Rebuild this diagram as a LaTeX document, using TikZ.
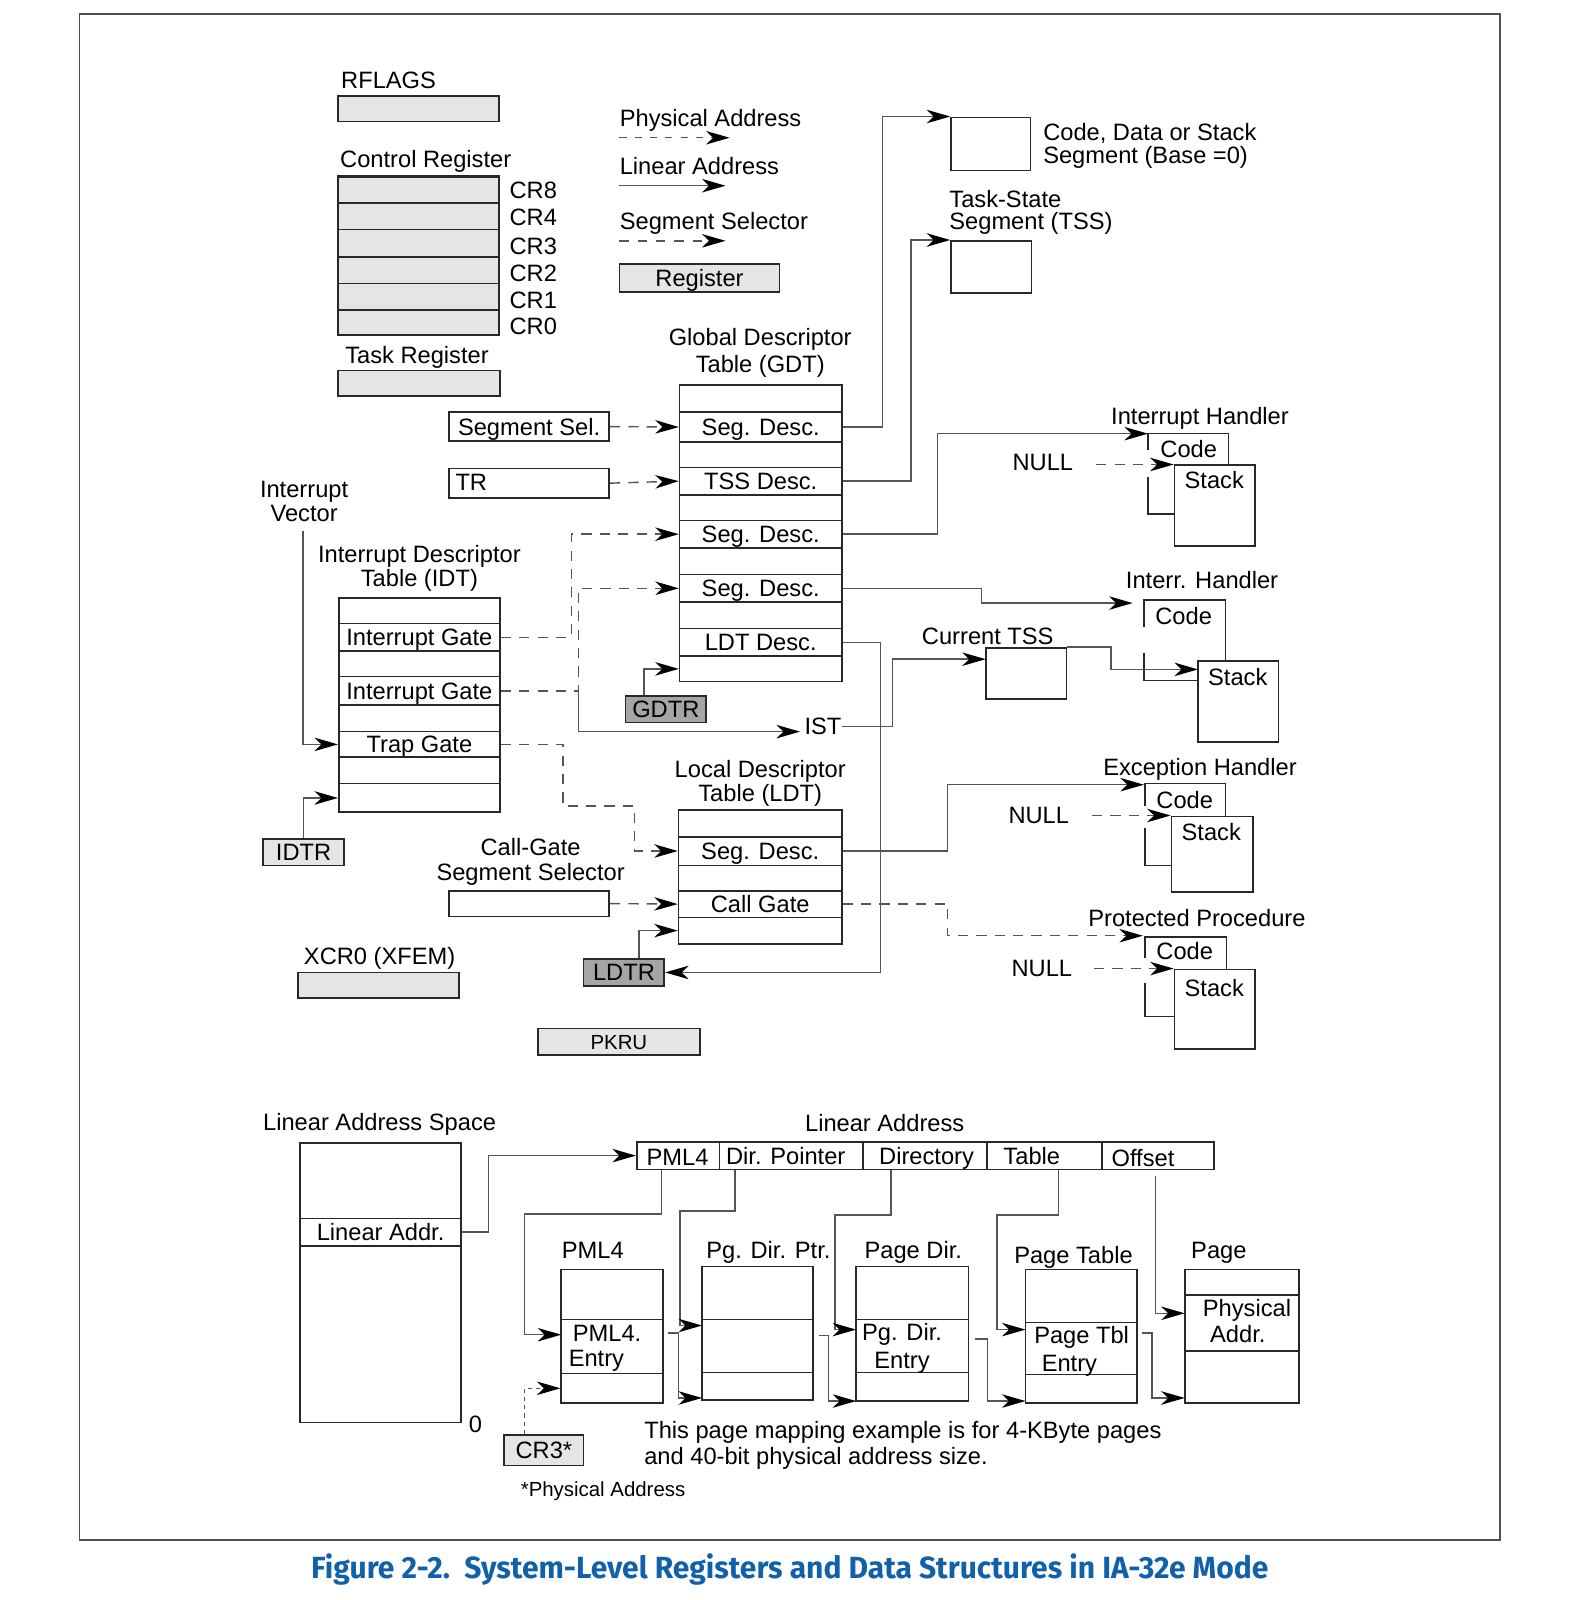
\documentclass[tikz,border=0pt]{standalone}
\usepackage{fontspec}
\setmainfont{Liberation Sans}
\newfontfamily\capfont{Fira Sans}
\usetikzlibrary{arrows.meta,fit,calc}
\definecolor{lightreg}{RGB}{229,229,229}
\definecolor{darkreg}{RGB}{165,165,165}
\definecolor{linec}{RGB}{40,40,40}
\definecolor{connc}{RGB}{85,85,85}
\definecolor{capblue}{RGB}{16,96,170}
\definecolor{framec}{RGB}{80,80,80}
\newcommand\fs{\fontsize{11.6pt}{13pt}\selectfont}
\newcommand\fss{\fontsize{10pt}{12pt}\selectfont}
\newcommand\mkbox[7][]{\node[bx,#1,fit={(#3,#4)(#5,#6)}] (#2) {};
  \node[btxt] (#2t) at (#2.center) {#7};}
\begin{document}
\begin{tikzpicture}[x=0.5pt,y=-0.5pt,
 bx/.style={draw=linec,line width=0.8pt,inner sep=0pt},
 btxt/.style={inner sep=0pt,text height=8.3pt,text depth=0pt,font=\fs,anchor=center},
 lr/.style={fill=lightreg},
 dr/.style={fill=darkreg},
 txt/.style={inner sep=0pt,font=\fs},
 ln/.style={draw=linec,line width=0.8pt},
 conn/.style={draw=connc,line width=0.7pt,-{Stealth[length=11.5pt,width=6.6pt,inset=3.4pt,color=black]}},
 dconn/.style={conn,dash pattern=on 5pt off 4pt},
]
\useasboundingbox (0,0) rectangle (1546,1568);
\draw[draw=framec,line width=0.8pt] (78,14) rectangle (1470,1509);

% ---------- registers ----------
\node[txt,anchor=base west] (tRF) at (334,87) {RFLAGS};
\mkbox[lr]{rf}{331}{94}{489}{119}{}
\node[txt,anchor=base west] (tCR) at (333,164) {Control Register};
\mkbox[lr]{cr4}{331}{199}{489}{225}{}
\mkbox[lr]{cr3}{331}{225}{489}{252}{}
\mkbox[lr]{cr2}{331}{252}{489}{278}{}
\mkbox[lr]{cr1}{331}{278}{489}{304}{}
\mkbox[lr]{cr0}{331}{304}{489}{328}{}
\mkbox[lr,line width=1.2pt]{cr8}{331}{173}{489}{199}{}
\node[txt,anchor=base west] (tCR8) at (499,195) {CR8};
\node[txt,anchor=base west] (tCR4) at (499,221) {CR4};
\node[txt,anchor=base west] (tCR3) at (499,249) {CR3};
\node[txt,anchor=base west] (tCR2) at (499,276) {CR2};
\node[txt,anchor=base west] (tCR1) at (499,302) {CR1};
\node[txt,anchor=base west] (tCR0) at (499,328) {CR0};
\node[txt,anchor=base west] (tTRg) at (338,356) {Task Register};
\mkbox[lr]{trr}{331}{363}{490}{388}{}

% ---------- legend ----------
\node[txt,anchor=base west] (tPA) at (607,124) {Physical Address};
\coordinate (lg1a) at (607,135); \coordinate (lg1b) at (715,135);
\draw[conn,dash pattern=on 3.5pt off 4pt] (lg1a) -- (lg1b);
\node[txt,anchor=base west] (tLA) at (607,171) {Linear Address};
\coordinate (lg2a) at (607,182); \coordinate (lg2b) at (711,182);
\draw[conn] (lg2a) -- (lg2b);
\node[txt,anchor=base west] (tSS) at (607,225) {Segment Selector};
\coordinate (lg3a) at (607,236); \coordinate (lg3b) at (711,236);
\draw[conn,dash pattern=on 4.5pt off 4.5pt] (lg3a) -- (lg3b);
\mkbox[lr]{lreg}{607}{259}{764}{286}{Register}

% ---------- segments ----------
\mkbox{cds}{932}{115}{1010}{167}{}
\node[txt,anchor=base west] (tCDS1) at (1022,138) {Code, Data or Stack};
\node[txt,anchor=base west] (tCDS2) at (1022,160) {Segment (Base =0)};
\node[txt,anchor=base west] (tTSS1) at (930,203) {Task-State};
\node[txt,anchor=base west] (tTSS2) at (930,225) {Segment (TSS)};
\mkbox{tss}{932}{236}{1011}{287}{}

% ---------- GDT ----------
\node[txt,anchor=base] (tG1) at (745,339) {Global Descriptor};
\node[txt,anchor=base] (tG2) at (745,365) {Table (GDT)};
\mkbox{g0}{666}{377}{825}{404}{}
\mkbox{g1}{666}{404}{825}{433}{Seg. Desc.}
\mkbox{g2}{666}{433}{825}{458}{}
\mkbox{g3}{666}{458}{825}{485}{TSS Desc.}
\mkbox{g4}{666}{485}{825}{510}{}
\mkbox{g5}{666}{510}{825}{537}{Seg. Desc.}
\mkbox{g6}{666}{537}{825}{563}{}
\mkbox{g7}{666}{563}{825}{590}{Seg. Desc.}
\mkbox{g8}{666}{590}{825}{616}{}
\mkbox{g9}{666}{616}{825}{643}{LDT Desc.}
\mkbox{g10}{666}{643}{825}{668}{}
\mkbox[dr]{gdtr}{613}{682}{692}{708}{GDTR}

\mkbox{ssel}{440}{404}{597}{432}{Segment Sel.}
\mkbox{trsel}{440}{459}{597}{488}{}
\node[txt,anchor=base west] (tTRs) at (446,481) {TR};

% ---------- IDT ----------
\node[txt,anchor=base] (tIV1) at (298,488) {Interrupt};
\node[txt,anchor=base] (tIV2) at (298,511) {Vector};
\node[txt,anchor=base] (tI1) at (411,551) {Interrupt Descriptor};
\node[txt,anchor=base] (tI2) at (411,575) {Table (IDT)};
\mkbox{i0}{332}{586}{490}{611}{}
\mkbox{i1}{332}{611}{490}{638}{Interrupt Gate}
\mkbox{i2}{332}{638}{490}{663}{}
\mkbox{i3}{332}{663}{490}{691}{Interrupt Gate}
\mkbox{i4}{332}{691}{490}{717}{}
\mkbox{i5}{332}{717}{490}{742}{Trap Gate}
\mkbox{i6}{332}{742}{490}{768}{}
\mkbox{i7}{332}{768}{490}{796}{}
\mkbox[lr]{idtr}{258}{822}{337}{848}{IDTR}

% ---------- LDT ----------
\node[txt,anchor=base] (tL1) at (745,762) {Local Descriptor};
\node[txt,anchor=base] (tL2) at (745,785) {Table (LDT)};
\mkbox{l0}{665}{794}{825}{820}{}
\mkbox{l1}{665}{820}{825}{848}{Seg. Desc.}
\mkbox{l2}{665}{848}{825}{873}{}
\mkbox{l3}{665}{873}{825}{899}{Call Gate}
\mkbox{l4}{665}{899}{825}{925}{}
\mkbox[dr]{ldtr}{572}{940}{651}{966}{LDTR}
\node[txt,anchor=base] (tCG1) at (520,838) {Call-Gate};
\node[txt,anchor=base] (tCG2) at (520,863) {Segment Selector};
\mkbox{cgsel}{440}{873}{597}{898}{}

\node[txt,anchor=base] (tX) at (372,945) {XCR0 (XFEM)};
\mkbox[lr]{xcr}{292}{953}{450}{978}{}
\mkbox[lr]{pkru}{527}{1008}{686}{1034}{}
\node[btxt,font=\fss,text height=7.2pt] (pkrut2) at (pkru.center) {PKRU};

% ---------- handlers ----------
\node[txt,anchor=base] (tIH) at (1176,416) {Interrupt Handler};
\draw[ln] (1125,441) -- (1125,425) -- (1204,425) -- (1204,456);
\draw[ln] (1125,467) -- (1125,504) -- (1151,504);
\mkbox{s1}{1151}{456}{1230}{535}{}
\node[txt,anchor=base] (c1) at (1165,448) {Code};
\node[txt,anchor=base] (st1) at (1190,479) {Stack};
\node[txt,anchor=base] (null1) at (1022,461) {NULL};
\coordinate (ih1c) at (1125,425);

\node[txt,anchor=base] (tIH2) at (1178,577) {Interr. Handler};
\draw[ln] (1121,614) -- (1121,588) -- (1201,588) -- (1201,648);
\draw[ln] (1121,640) -- (1121,667) -- (1174,667);
\mkbox{s2}{1174}{648}{1253}{727}{}
\node[txt,anchor=base] (c2) at (1160,612) {Code};
\node[txt,anchor=base] (st2) at (1213,672) {Stack};
\coordinate (ih2c) at (1110,591);
\coordinate (s2in) at (1174,656);

\node[txt,anchor=base] (tCT) at (968,632) {Current TSS};
\mkbox{ctss}{966}{635}{1045}{685}{}
\coordinate (ctssin) at (966,646);
\node[txt,anchor=base west] (ist) at (788,720) {IST};
\coordinate (istin) at (784,717);

\node[txt,anchor=base] (tEH) at (1176,760) {Exception Handler};
\draw[ln] (1122,790) -- (1122,768) -- (1201,768) -- (1201,800);
\draw[ln] (1122,811) -- (1122,848) -- (1148,848);
\mkbox{s3}{1148}{800}{1228}{874}{}
\node[txt,anchor=base] (c3) at (1161,792) {Code};
\node[txt,anchor=base] (st3) at (1187,824) {Stack};
\node[txt,anchor=base] (null2) at (1018,807) {NULL};
\coordinate (ehc) at (1121,769);

\node[txt,anchor=base] (tPP) at (1173,908) {Protected Procedure};
\draw[ln] (1122,939) -- (1122,918) -- (1202,918) -- (1202,950);
\draw[ln] (1122,963) -- (1122,996) -- (1151,996);
\mkbox{s4}{1151}{950}{1230}{1028}{}
\node[txt,anchor=base] (c4) at (1161,940) {Code};
\node[txt,anchor=base] (st4) at (1190,977) {Stack};
\node[txt,anchor=base] (null3) at (1021,957) {NULL};
\coordinate (ppc) at (1120,917);

% ---------- upper connectors ----------
\draw[dconn] (ssel.east) -- (g1.west);
\draw[dconn] (trsel.east) -- (g3.west);
\draw[conn] (g1.east) -- ++(39,0) |- (cds.north west);
\draw[conn] (g3.east) -- ++(67,0) |- (tss.north west);
\draw[conn] (g5.east) -- ++(93,0) |- (ih1c);
\draw[conn] (g7.east) -- ++(136,0) |- (ih2c);
\draw[conn] (g9.east) -- ++(37,0) |- (ldtr.east);
\draw[conn] ($(gdtr.north west)+(19,0)$) |- (g10.west);
\draw[dconn] (i1.east) -- ++(69,0) |- (g5.west);
\draw[dconn] (i3.east) -- ++(76,0) coordinate (j2) |- (g7.west);
\draw[conn] (j2) |- (istin);
\draw[dconn] (i5.east) -- ++(61,0) -- ++(0,60.5) -- ++(70,0) |- (l1.west);
\coordinate (ivs) at (297,520);
\draw[conn] (ivs) |- (i5.west);
\draw[conn] (idtr.north) |- (i7.west);
\draw[conn] (ist.east) -- ++(50,0) |- (ctssin);
\draw[conn] (ctss.north east) -- ++(43,0) |- (s2in);
\draw[conn] (l1.east) -- ++(103,0) |- (ehc);
\draw[dconn] (l3.east) -- ++(103,0) |- (ppc);
\draw[dconn] (cgsel.east) -- (l3.west);
\draw[conn] ($(ldtr.north west)+(55,0)$) |- (l4.west);
\draw[dconn] ($(s1.north west)+(-76,0)$) -- (s1.north west);
\draw[dconn] ($(s3.north west)+(-77,0)$) -- (s3.north west);
\draw[dconn] ($(s4.north west)+(-78,0)$) -- (s4.north west);

% ---------- paging ----------
\node[txt,anchor=base] (tLAS) at (372,1108) {Linear Address Space};
\mkbox{las0}{294}{1120}{452}{1194}{}
\mkbox{las1}{294}{1194}{452}{1221}{Linear Addr.}
\mkbox{las2}{294}{1221}{452}{1394}{}
\node[txt,anchor=base] (tzero) at (466,1404) {0};

\node[txt,anchor=base] (tLAd) at (867,1109) {Linear Address};
\mkbox{f1}{624}{1119}{705}{1146}{}
\mkbox{f2}{705}{1119}{846}{1146}{}
\mkbox{f3}{846}{1119}{967}{1146}{}
\mkbox{f4}{967}{1119}{1080}{1146}{}
\mkbox{f5}{1080}{1119}{1190}{1146}{}
\node[txt,anchor=base] (tf1) at (664,1142) {PML4};
\node[txt,anchor=base] (tf2) at (770,1141) {Dir. Pointer};
\node[txt,anchor=base] (tf3) at (908,1141) {Directory};
\node[txt,anchor=base west] (tf4) at (983,1141) {Table};
\node[txt,anchor=base west] (tf5) at (1089,1143) {Offset};
\draw[conn] (las1.east) -- ++(26,0) |- (f1.west);

\node[txt,anchor=base] (tP) at (581,1233) {PML4};
\mkbox{p0}{550}{1244}{650}{1293}{}
\mkbox{p1}{550}{1293}{650}{1346}{}
\mkbox{p2}{550}{1346}{650}{1375}{}
\node[txt,anchor=base west] (tP1) at (561,1315) {PML4.};
\node[txt,anchor=base west] (tP2) at (557,1339) {Entry};

\node[txt,anchor=base] (tD) at (753,1233) {Pg. Dir. Ptr.};
\mkbox{d0}{688}{1241}{797}{1293}{}
\mkbox{d1}{688}{1293}{797}{1345}{}
\mkbox{d2}{688}{1345}{797}{1372}{}

\node[txt,anchor=base] (tE) at (895,1233) {Page Dir.};
\mkbox{e0}{839}{1241}{949}{1293}{}
\mkbox{e1}{839}{1293}{949}{1345}{}
\mkbox{e2}{839}{1345}{949}{1373}{}
\node[txt,anchor=base] (tE1) at (884,1314) {Pg. Dir.};
\node[txt,anchor=base] (tE2) at (884,1341) {Entry};

\node[txt,anchor=base] (tT) at (1052,1238) {Page Table};
\mkbox{t0}{1005}{1244}{1114}{1296}{}
\mkbox{t1}{1005}{1296}{1114}{1347}{}
\mkbox{t2}{1005}{1347}{1114}{1375}{}
\node[txt,anchor=base] (tT1) at (1060,1317) {Page Tbl};
\node[txt,anchor=base] (tT2) at (1048,1344) {Entry};

\node[txt,anchor=base west] (tQ) at (1167,1233) {Page};
\mkbox{q0}{1161}{1244}{1273}{1269}{}
\mkbox{q1}{1161}{1269}{1273}{1324}{}
\mkbox{q2}{1161}{1324}{1273}{1375}{}
\node[txt,anchor=base] (tQ1) at (1222,1290) {Physical};
\node[txt,anchor=base] (tQ2) at (1213,1316) {Addr.};

\coordinate (pin1) at (550,1308);
\coordinate (din1) at (688,1299);
\coordinate (ein1) at (839,1303);
\coordinate (tin1) at (1005,1303);
\coordinate (qin1) at (1161,1287);
\coordinate (din2) at (688,1370);
\coordinate (ein2) at (839,1373);
\coordinate (tin2) at (1005,1373);
\coordinate (qin2) at (1161,1370);
\draw[conn] ($(f1.south west)+(25,0)$) -- ++(0,43) -- ++(-134,0) |- (pin1);
\draw[conn] ($(f2.south west)+(16,0)$) -- ++(0,40) -- ++(-54,0) |- (din1);
\draw[conn] ($(f3.south west)+(28,0)$) -- ++(0,44) -- ++(-55,0) |- (ein1);
\draw[conn] ($(f4.south west)+(71,0)$) -- ++(0,44) -- ++(-60,0) |- (tin1);
\draw[conn] ($(f5.south west)+(53,6)$) |- (qin1);
\draw[conn] ($(p1.east)+(4,-13)$) -- ++(10,0) |- (din2);
\draw[conn] ($(d1.east)+(5,-10)$) -- ++(9,0) |- (ein2);
\draw[conn] ($(e1.east)+(6,-7)$) -- ++(12,0) |- (tin2);
\draw[conn] ($(t1.east)+(4,-15)$) -- ++(10,0) |- (qin2);

\mkbox[lr]{cr3b}{494}{1406}{572}{1436}{CR3*}
\draw[conn,dash pattern=on 2pt off 2pt,line width=0.6pt] ($(cr3b.north west)+(21,0)$) |- (p2.west);
\node[txt,anchor=base,font=\fss] (tPhys) at (591,1467) {*Physical Address};
\node[txt,anchor=base west] (tN1) at (631,1410) {This page mapping example is for 4-KByte pages};
\node[txt,anchor=base west] (tN2) at (631,1435) {and 40-bit physical address size.};

% ---------- caption ----------
\node[inner sep=0pt,anchor=base,text=capblue] (cap) at (774,1547) {\resizebox{469pt}{\height}{\capfont\bfseries\fontsize{15pt}{15pt}\selectfont Figure 2-2.\ \ System-Level Registers and Data Structures in IA-32e Mode}};
\end{tikzpicture}
\end{document}
